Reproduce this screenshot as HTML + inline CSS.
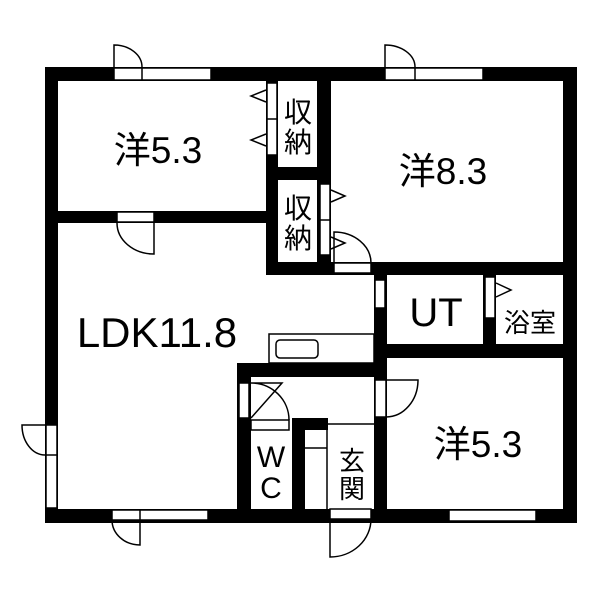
<!DOCTYPE html>
<html><head><meta charset="utf-8"><style>body{margin:0;background:#fff}svg{display:block}text{font-family:"Liberation Sans","Noto Sans CJK JP",sans-serif;fill:#000}</style></head><body>
<svg width="600" height="600" viewBox="0 0 600 600" xmlns="http://www.w3.org/2000/svg">
<g fill="#000">
<rect x="45" y="67" width="532" height="14"/>
<rect x="45" y="67" width="13" height="456"/>
<rect x="563" y="67" width="14" height="456"/>
<rect x="45" y="509" width="532" height="14"/>
<rect x="58" y="211" width="209" height="12"/>
<rect x="266" y="81" width="12" height="194"/>
<rect x="317" y="81" width="14" height="194"/>
<rect x="266" y="167" width="65" height="13"/>
<rect x="266" y="262" width="311" height="13"/>
<rect x="374" y="262" width="13" height="247"/>
<rect x="483" y="275" width="13" height="70"/>
<rect x="374" y="344" width="203" height="14"/>
<rect x="237" y="363" width="150" height="14"/>
<rect x="237" y="363" width="14" height="146"/>
<rect x="292" y="418" width="13" height="91"/>
<rect x="292" y="418" width="36" height="12"/>
</g>
<g fill="#fff" stroke="#000" stroke-width="1.5">
<rect x="114" y="68" width="97" height="12"/><line x1="142" y1="68" x2="142" y2="80"/>
<rect x="385" y="68" width="98" height="12"/><line x1="415" y1="68" x2="415" y2="80"/>
<rect x="117" y="212" width="37" height="10"/>
<rect x="267" y="83" width="10" height="72"/><line x1="267" y1="119" x2="277" y2="119"/>
<rect x="320" y="184" width="10" height="71"/><line x1="320" y1="220" x2="330" y2="220"/>
<rect x="334" y="263" width="37" height="10"/>
<rect x="375" y="280" width="10" height="28"/>
<rect x="485" y="277" width="10" height="41"/>
<rect x="375" y="380" width="11" height="37"/>
<rect x="449" y="510" width="87" height="11"/>
<rect x="46" y="425" width="11" height="83"/><line x1="46" y1="455" x2="57" y2="455"/>
<rect x="112" y="510" width="96" height="10"/><line x1="140" y1="510" x2="140" y2="520"/>
<rect x="239" y="383" width="10" height="35"/>
<rect x="251" y="420" width="38" height="10"/>
<rect x="330" y="509" width="41" height="10"/>
<rect x="269" y="334" width="105" height="29"/>
<rect x="276" y="340" width="42" height="18" rx="4"/>
</g>
<g fill="none" stroke="#000" stroke-width="1.5">
<path d="M114 67 V45 A28 22 0 0 1 142 67"/>
<path d="M385 67 V45 A30 22 0 0 1 415 67"/>
<path d="M154 223 V254 A37 31 0 0 1 117 223"/>
<path d="M266 90 L251 96 L266 102 M266 134 L251 140 L266 146"/>
<path d="M331 190 L345 196 L331 202 M331 237 L345 243 L331 249"/>
<path d="M334 263 V232 A37 31 0 0 1 371 263"/>
<path d="M496 283 L511 290 L496 297"/>
<path d="M386 380 H418 A32 37 0 0 1 386 417"/>
<path d="M45 425 H22 A23 30 0 0 0 45 455"/>
<path d="M140 520 V545 A28 25 0 0 1 112 520"/>
<path d="M330 519 V557 A41 38 0 0 0 371 519"/>
<path d="M251 383 H282 L251 418 M251 383 A38 37 0 0 1 289 420"/>
<path d="M305 448 H327 M327 424 V509 M305 424 H374"/>
</g>
<text x="158" y="163" font-size="37" text-anchor="middle">洋5.3</text>
<text x="298" y="122" font-size="28" text-anchor="middle">収</text>
<text x="298" y="152" font-size="28" text-anchor="middle">納</text>
<text x="298" y="218" font-size="28" text-anchor="middle">収</text>
<text x="298" y="248" font-size="28" text-anchor="middle">納</text>
<text x="443" y="184" font-size="37" text-anchor="middle">洋8.3</text>
<text x="436" y="326" font-size="40" text-anchor="middle">UT</text>
<text x="530" y="332" font-size="26" text-anchor="middle">浴室</text>
<text x="157" y="347" font-size="42" text-anchor="middle">LDK11.8</text>
<text x="271" y="467" font-size="30" text-anchor="middle">W</text>
<text x="271" y="498" font-size="30" text-anchor="middle">C</text>
<text x="352" y="470" font-size="26" text-anchor="middle">玄</text>
<text x="352" y="498" font-size="26" text-anchor="middle">関</text>
<text x="478" y="457" font-size="37" text-anchor="middle">洋5.3</text>
</svg>
</body></html>
